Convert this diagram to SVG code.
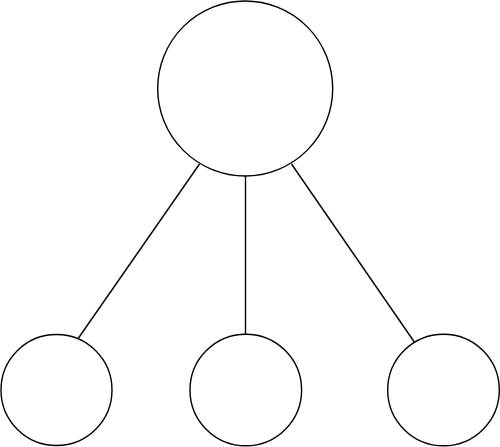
<svg xmlns="http://www.w3.org/2000/svg" width="500" height="447" viewBox="0 0 500 447">
<style>
.n{fill:#fff;stroke:#000;stroke-width:1.4}
.c{stroke:#000;stroke-width:1.4;fill:none}
</style>
<rect width="500" height="447" fill="#fff"/>
<g id="connectors">
<line class="c" x1="199.5" y1="164" x2="78.5" y2="338"/>
<line class="c" x1="245.5" y1="176" x2="245.5" y2="334"/>
<line class="c" x1="291.5" y1="164" x2="415" y2="343"/>
</g>
<g id="root"><circle class="n" cx="245.2" cy="88.5" r="87.5"/></g>
<g id="child1"><circle class="n" cx="56.5" cy="390" r="55.5"/></g>
<g id="child2"><circle class="n" cx="245.8" cy="390" r="55.8"/></g>
<g id="child3"><circle class="n" cx="443.5" cy="390" r="55.8"/></g>
</svg>
